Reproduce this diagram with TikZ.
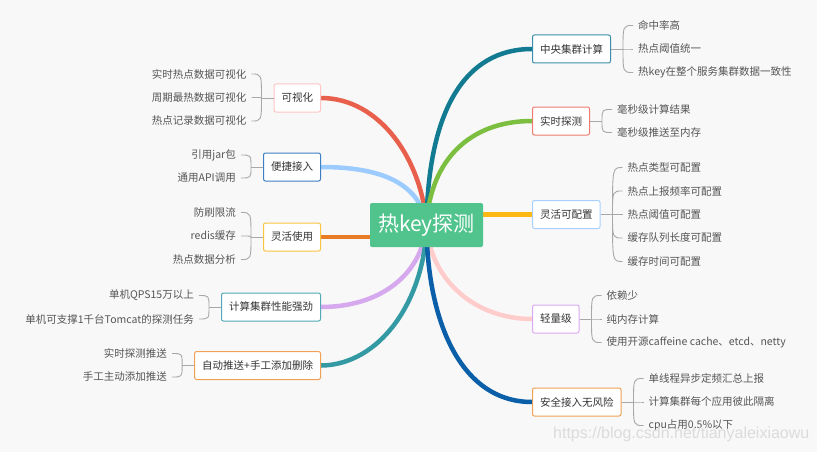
\documentclass[tikz,border=0pt]{standalone}
\usepackage{fontspec}
\setmainfont{Noto Sans CJK SC}
\newfontfamily\wmfont{Liberation Sans}
\pgfdeclarelayer{bg}
\pgfsetlayers{bg,main}
\definecolor{bgc}{HTML}{F8F8F8}
\definecolor{rootc}{HTML}{50C48C}
\definecolor{leaftxt}{HTML}{555555}
\definecolor{boxtxt}{HTML}{333333}
\definecolor{twigc}{HTML}{A8A8A8}
\definecolor{eRed}{HTML}{E8604C}
\definecolor{eLBlue}{HTML}{9CCBFF}
\definecolor{eOrange}{HTML}{E87B24}
\definecolor{eLav}{HTML}{D6A8EE}
\definecolor{eTeal}{HTML}{3399A3}
\definecolor{eDTeal}{HTML}{137B91}
\definecolor{eGreen}{HTML}{7CBF40}
\definecolor{eYellow}{HTML}{FDB813}
\definecolor{ePink}{HTML}{FFCCCC}
\definecolor{eDBlue}{HTML}{0B5EA8}
\definecolor{bPink}{HTML}{FFC6C6}
\definecolor{bBlue}{HTML}{3E7EC2}
\definecolor{bYellow}{HTML}{F8C442}
\definecolor{bTeal}{HTML}{52A9B8}
\definecolor{bOrange}{HTML}{F0A155}
\definecolor{bDTeal}{HTML}{3B8FAA}
\definecolor{bSalmon}{HTML}{EE7B70}
\definecolor{bLBlue}{HTML}{A8D0FF}
\definecolor{bLav}{HTML}{DBA9F0}
\begin{document}
\begin{tikzpicture}[x=1pt,y=-1pt,
  box/.style={draw, fill=white, line width=1pt, rounded corners=2pt,
    minimum height=28pt, inner xsep=7.5pt, inner ysep=0pt,
    font=\fontsize{10.5}{12}\selectfont, text=boxtxt},
  leafL/.style={anchor=east, inner xsep=5pt, inner ysep=1pt,
    font=\fontsize{10.5}{12}\selectfont, text=leaftxt},
  leafR/.style={anchor=west, inner xsep=5pt, inner ysep=1pt,
    font=\fontsize{10.5}{12}\selectfont, text=leaftxt},
  branch/.style={line width=4.5pt},
  twig/.style={draw=twigc, line width=0.9pt}]
\begin{pgfonlayer}{bg}
\fill[bgc] (0,0) rectangle (817,452);
\end{pgfonlayer}
\useasboundingbox (0,0) rectangle (817,452);

% root
\node[fill=rootc, rounded corners=2pt, minimum width=113pt, minimum height=44pt,
  inner sep=0pt, text=white, font=\fontsize{21}{24}\selectfont] (root) at (426.5,225) {热key探测};

% left boxes
\node[box, draw=bPink, anchor=east] (k1) at (321,98) {可视化};
\node[box, draw=bBlue, anchor=east] (k2) at (321,167) {便捷接入};
\node[box, draw=bYellow, anchor=east] (k3) at (321,237) {灵活使用};
\node[box, draw=bTeal, anchor=east] (k4) at (321,307) {计算集群性能强劲};
\node[box, draw=bOrange, anchor=east] (k5) at (321,365.5) {自动推送+手工添加删除};

% right boxes
\node[box, draw=bDTeal, anchor=west] (r1) at (532,49) {中央集群计算};
\node[box, draw=bSalmon, anchor=west] (r2) at (532,121) {实时探测};
\node[box, draw=bLBlue, anchor=west] (r3) at (532,214.5) {灵活可配置};
\node[box, draw=bLav, anchor=west] (r4) at (532,319) {轻量级};
\node[box, draw=bOrange, anchor=west] (r5) at (532,402) {安全接入无风险};

% main branches
\begin{pgfonlayer}{bg}
\draw[branch, eRed] (k1.east) .. controls (380,98) and (422,160) .. (root.center);
\draw[branch, eLBlue] (k2.east) .. controls (375,167) and (420,180) .. (root.center);
\draw[branch, eOrange] (k3.east) -- (k3.east -| root.center);
\draw[branch, eLav] (k4.east) .. controls (380,307) and (422,275) .. (root.center);
\draw[branch, eTeal] (k5.east) .. controls (380,365) and (425,300) .. (root.center);
\draw[branch, eDTeal] (r1.west) .. controls (465,49) and (428,110) .. (root.center);
\draw[branch, eGreen] (r2.west) .. controls (470,121) and (430,160) .. (root.center);
\draw[branch, eYellow] (r3.west) -- (r3.west -| root.center);
\draw[branch, ePink] (r4.west) .. controls (475,319) and (430,280) .. (root.center);
\draw[branch, eDBlue] (r5.west) .. controls (460,402) and (427,320) .. (root.center);
\end{pgfonlayer}

% junction points
\coordinate (jk1) at ([xshift=-12pt]k1.west);
\coordinate (jk2) at ([xshift=-12pt]k2.west);
\coordinate (jk3) at ([xshift=-12pt]k3.west);
\coordinate (jk4) at ([xshift=-12pt]k4.west);
\coordinate (jk5) at ([xshift=-12pt]k5.west);
\coordinate (jr1) at ([xshift=12pt]r1.east);
\coordinate (jr2) at ([xshift=12pt]r2.east);
\coordinate (jr3) at ([xshift=12pt]r3.east);
\coordinate (jr4) at ([xshift=12pt]r4.east);
\coordinate (jr5) at ([xshift=12pt]r5.east);

% left leaves
\node[leafL] (a1) at ([xshift=-10pt]jk1 |- 0,74) {实时热点数据可视化};
\node[leafL] (a2) at ([xshift=-10pt]jk1 |- 0,97.5) {周期最热数据可视化};
\node[leafL] (a3) at ([xshift=-10pt]jk1 |- 0,121) {热点记录数据可视化};
\node[leafL] (b1) at ([xshift=-10pt]jk2 |- 0,155) {引用jar包};
\node[leafL] (b2) at ([xshift=-10pt]jk2 |- 0,178) {通用API调用};
\node[leafL] (c1) at ([xshift=-10pt]jk3 |- 0,212.5) {防刷限流};
\node[leafL] (c2) at ([xshift=-10pt]jk3 |- 0,236) {redis缓存};
\node[leafL] (c3) at ([xshift=-10pt]jk3 |- 0,259.5) {热点数据分析};
\node[leafL] (d1) at ([xshift=-10pt]jk4 |- 0,295.5) {单机QPS15万以上};
\node[leafL] (d2) at ([xshift=-10pt]jk4 |- 0,319) {单机可支撑1千台Tomcat的探测任务};
\node[leafL] (e1) at ([xshift=-10pt]jk5 |- 0,353.5) {实时探测推送};
\node[leafL] (e2) at ([xshift=-10pt]jk5 |- 0,377) {手工主动添加推送};

% right leaves
\node[leafR] (f1) at ([xshift=10pt]jr1 |- 0,25.5) {命中率高};
\node[leafR] (f2) at ([xshift=10pt]jr1 |- 0,49) {热点阈值统一};
\node[leafR] (f3) at ([xshift=10pt]jr1 |- 0,72.5) {热key在整个服务集群数据一致性};
\node[leafR] (g1) at ([xshift=10pt]jr2 |- 0,109.5) {毫秒级计算结果};
\node[leafR] (g2) at ([xshift=10pt]jr2 |- 0,132.5) {毫秒级推送至内存};
\node[leafR] (h1) at ([xshift=10pt]jr3 |- 0,167.5) {热点类型可配置};
\node[leafR] (h2) at ([xshift=10pt]jr3 |- 0,191) {热点上报频率可配置};
\node[leafR] (h3) at ([xshift=10pt]jr3 |- 0,214.5) {热点阈值可配置};
\node[leafR] (h4) at ([xshift=10pt]jr3 |- 0,238) {缓存队列长度可配置};
\node[leafR] (h5) at ([xshift=10pt]jr3 |- 0,261.5) {缓存时间可配置};
\node[leafR] (m1) at ([xshift=10pt]jr4 |- 0,295.5) {依赖少};
\node[leafR] (m2) at ([xshift=10pt]jr4 |- 0,319) {纯内存计算};
\node[leafR] (m3) at ([xshift=10pt]jr4 |- 0,342.5) {使用开源caffeine cache、etcd、netty};
\node[leafR] (n1) at ([xshift=10pt]jr5 |- 0,378.5) {单线程异步定频汇总上报};
\node[leafR] (n2) at ([xshift=10pt]jr5 |- 0,402) {计算集群每个应用彼此隔离};
\node[leafR] (n3) at ([xshift=10pt]jr5 |- 0,425.5) {cpu占用0.5\%以下};

% twigs
\draw[twig] (k1.west) -- (jk1);
\foreach \l in {a1,a2,a3} \draw[twig] (jk1) .. controls (jk1 |- \l.east) .. (\l.east);
\draw[twig] (k2.west) -- (jk2);
\foreach \l in {b1,b2} \draw[twig] (jk2) .. controls (jk2 |- \l.east) .. (\l.east);
\draw[twig] (k3.west) -- (jk3);
\foreach \l in {c1,c2,c3} \draw[twig] (jk3) .. controls (jk3 |- \l.east) .. (\l.east);
\draw[twig] (k4.west) -- (jk4);
\foreach \l in {d1,d2} \draw[twig] (jk4) .. controls (jk4 |- \l.east) .. (\l.east);
\draw[twig] (k5.west) -- (jk5);
\foreach \l in {e1,e2} \draw[twig] (jk5) .. controls (jk5 |- \l.east) .. (\l.east);
\draw[twig] (r1.east) -- (jr1);
\foreach \l in {f1,f2,f3} \draw[twig] (jr1) .. controls (jr1 |- \l.west) .. (\l.west);
\draw[twig] (r2.east) -- (jr2);
\foreach \l in {g1,g2} \draw[twig] (jr2) .. controls (jr2 |- \l.west) .. (\l.west);
\draw[twig] (r3.east) -- (jr3);
\foreach \l in {h1,h2,h3,h4,h5} \draw[twig] (jr3) .. controls (jr3 |- \l.west) .. (\l.west);
\draw[twig] (r4.east) -- (jr4);
\foreach \l in {m1,m2,m3} \draw[twig] (jr4) .. controls (jr4 |- \l.west) .. (\l.west);
\draw[twig] (r5.east) -- (jr5);
\foreach \l in {n1,n2,n3} \draw[twig] (jr5) .. controls (jr5 |- \l.west) .. (\l.west);

% watermark
\node[anchor=west, inner sep=0pt, text=black!14, font=\wmfont\fontsize{16}{18}\selectfont] (wm) at (553,434) {https://blog.csdn.net/tianyaleixiaowu};
\end{tikzpicture}
\end{document}
